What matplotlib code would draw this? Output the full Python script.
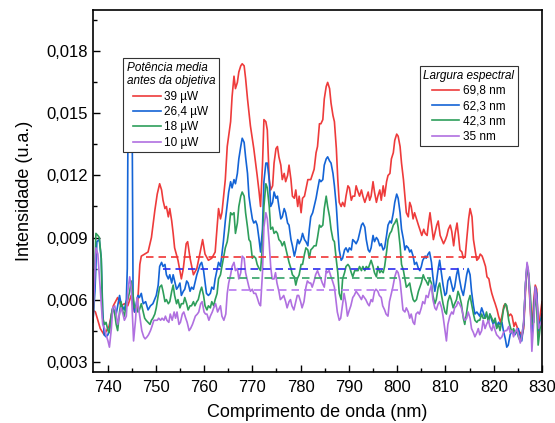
import matplotlib
matplotlib.use("Agg")
import matplotlib.pyplot as plt
from matplotlib.ticker import MultipleLocator, FuncFormatter
from matplotlib.lines import Line2D

plt.rcParams['font.family'] = ['Liberation Sans', 'DejaVu Sans']

# ---- spectra: wavelength (nm) and intensity (a.u.) ----
wl_39 = [737.0, 737.5, 738.5, 739.3, 740.3, 741.2, 742.1, 742.8, 743.5, 744.2, 744.9, 745.6, 746.2, 746.7, 747.0, 747.7, 748.4, 749.1, 749.8, 750.3,
         750.8, 751.2, 751.5, 751.9, 752.2, 752.6, 752.9, 753.3, 753.6, 753.9, 754.6, 755.3, 755.7, 756.3, 756.6, 757.1, 757.8, 758.5, 759.2, 759.7,
         760.2, 760.9, 761.6, 762.3, 762.7, 763.0, 763.4, 763.7, 764.4, 764.8, 765.5, 765.8, 766.2, 766.5, 766.9, 767.2, 767.6, 767.9, 768.3, 768.6,
         769.0, 769.6, 770.3, 771.0, 771.4, 771.7, 772.1, 772.4, 772.8, 773.1, 773.5, 773.8, 774.2, 774.5, 774.9, 775.2, 775.5, 775.9, 776.2, 776.6,
         776.9, 777.3, 777.6, 778.0, 778.3, 778.7, 779.0, 779.4, 779.7, 780.1, 780.4, 780.8, 781.5, 782.1, 782.8, 783.2, 783.5, 783.9, 784.2, 784.6,
         784.9, 785.3, 785.6, 786.0, 786.3, 786.7, 787.0, 787.4, 787.7, 788.0, 788.4, 788.7, 789.1, 789.4, 789.8, 790.1, 790.5, 790.8, 791.2, 791.5,
         791.9, 792.2, 792.6, 792.9, 793.3, 794.0, 794.3, 794.6, 795.0, 795.3, 795.7, 796.0, 796.4, 796.7, 797.1, 797.4, 797.8, 798.1, 798.5, 798.8,
         799.2, 799.5, 799.9, 800.2, 800.6, 800.9, 801.3, 801.6, 801.9, 802.3, 802.6, 802.9, 803.3, 803.6, 804.0, 804.4, 805.1, 805.5, 805.8, 806.2,
         806.5, 806.8, 807.5, 808.2, 808.5, 808.9, 809.6, 810.0, 810.3, 810.6, 811.0, 811.3, 811.7, 812.0, 812.4, 812.7, 813.0, 813.4, 813.7, 814.1,
         814.4, 814.8, 815.1, 815.5, 815.8, 816.2, 816.5, 816.9, 817.2, 817.6, 817.9, 818.3, 818.6, 819.0, 819.3, 819.6, 820.0, 820.3, 820.7, 821.0,
         821.4, 821.7, 822.1, 822.4, 822.8, 823.1, 823.5, 823.8, 824.2, 824.5, 825.1, 825.5, 825.8, 826.2, 826.6, 826.9, 827.2, 827.6, 827.9, 828.3,
         828.6, 828.9, 829.3, 829.6, 830.0]
int_39 = [0.0055, 0.0054, 0.0046, 0.0043, 0.0047, 0.0057, 0.0061, 0.0057, 0.0058, 0.0057, 0.0062, 0.0054, 0.0056, 0.0077, 0.0081, 0.0082, 0.0083, 0.0090, 0.0103, 0.0111,
          0.0116, 0.0113, 0.0108, 0.0104, 0.0105, 0.0100, 0.0104, 0.0098, 0.0092, 0.0085, 0.0079, 0.0070, 0.0075, 0.0087, 0.0088, 0.0080, 0.0072, 0.0075, 0.0083, 0.0089,
          0.0082, 0.0079, 0.0080, 0.0083, 0.0095, 0.0104, 0.0099, 0.0102, 0.0118, 0.0134, 0.0146, 0.0158, 0.0168, 0.0162, 0.0165, 0.0170, 0.0173, 0.0174, 0.0173, 0.0167,
          0.0157, 0.0144, 0.0133, 0.0120, 0.0112, 0.0105, 0.0125, 0.0147, 0.0146, 0.0142, 0.0118, 0.0113, 0.0115, 0.0126, 0.0133, 0.0134, 0.0129, 0.0125, 0.0118, 0.0121,
          0.0117, 0.0120, 0.0125, 0.0118, 0.0110, 0.0109, 0.0113, 0.0105, 0.0110, 0.0102, 0.0109, 0.0110, 0.0118, 0.0118, 0.0123, 0.0131, 0.0134, 0.0145, 0.0145, 0.0147,
          0.0157, 0.0163, 0.0165, 0.0162, 0.0155, 0.0149, 0.0146, 0.0133, 0.0118, 0.0107, 0.0105, 0.0107, 0.0105, 0.0110, 0.0115, 0.0114, 0.0108, 0.0110, 0.0110, 0.0115,
          0.0112, 0.0110, 0.0113, 0.0110, 0.0107, 0.0112, 0.0108, 0.0110, 0.0117, 0.0112, 0.0107, 0.0110, 0.0113, 0.0108, 0.0115, 0.0110, 0.0117, 0.0120, 0.0121, 0.0128,
          0.0131, 0.0137, 0.0140, 0.0139, 0.0134, 0.0126, 0.0118, 0.0110, 0.0102, 0.0100, 0.0107, 0.0105, 0.0099, 0.0102, 0.0099, 0.0096, 0.0091, 0.0094, 0.0092, 0.0091,
          0.0097, 0.0102, 0.0089, 0.0096, 0.0098, 0.0091, 0.0087, 0.0089, 0.0091, 0.0094, 0.0096, 0.0093, 0.0086, 0.0092, 0.0097, 0.0091, 0.0084, 0.0083, 0.0080, 0.0081,
          0.0089, 0.0099, 0.0104, 0.0100, 0.0089, 0.0083, 0.0079, 0.0080, 0.0082, 0.0081, 0.0079, 0.0076, 0.0071, 0.0070, 0.0066, 0.0063, 0.0060, 0.0058, 0.0055, 0.0052,
          0.0049, 0.0052, 0.0057, 0.0058, 0.0055, 0.0052, 0.0053, 0.0052, 0.0047, 0.0049, 0.0045, 0.0044, 0.0042, 0.0046, 0.0065, 0.0077, 0.0072, 0.0054, 0.0045, 0.0060,
          0.0067, 0.0065, 0.0043, 0.0052, 0.0059]

wl_26 = [737.0, 737.4, 737.8, 738.3, 738.7, 739.0, 739.3, 739.7, 740.1, 740.4, 741.1, 741.8, 742.5, 742.8, 743.5, 743.9, 744.1, 744.25, 744.7, 745.1,
         745.3, 745.6, 746.3, 746.6, 747.0, 747.4, 747.9, 748.4, 748.9, 749.4, 750.1, 750.5, 750.8, 751.2, 751.5, 751.9, 752.2, 752.6, 752.9, 753.3,
         753.6, 753.9, 754.3, 754.6, 755.0, 755.3, 755.7, 756.0, 756.4, 756.7, 757.1, 757.4, 757.8, 758.5, 759.2, 759.5, 759.9, 760.5, 760.9, 761.3,
         761.6, 762.0, 762.3, 763.0, 763.4, 763.7, 764.0, 764.4, 764.8, 765.1, 765.5, 765.8, 766.2, 766.5, 766.9, 767.2, 767.6, 767.9, 768.3, 768.6,
         769.0, 769.3, 769.6, 770.0, 770.3, 770.7, 771.0, 771.4, 771.7, 772.1, 772.4, 772.8, 773.1, 773.5, 773.8, 774.2, 774.5, 774.9, 775.2, 775.5,
         775.9, 776.2, 776.6, 776.9, 777.3, 777.6, 778.0, 778.3, 778.7, 779.0, 779.4, 779.7, 780.1, 780.4, 780.8, 781.1, 781.5, 781.8, 782.1, 782.5,
         782.8, 783.2, 783.5, 783.9, 784.2, 784.6, 784.9, 785.3, 785.6, 786.0, 786.3, 786.7, 787.0, 787.4, 787.7, 788.0, 788.4, 788.7, 789.1, 789.4,
         789.8, 790.1, 790.5, 790.8, 791.2, 791.5, 791.9, 792.2, 792.6, 792.9, 793.3, 793.6, 794.0, 794.3, 794.6, 795.0, 795.3, 795.7, 796.0, 796.4,
         796.7, 797.1, 797.4, 797.8, 798.1, 798.5, 798.8, 799.2, 799.5, 799.9, 800.2, 800.6, 800.9, 801.3, 801.6, 801.9, 802.3, 802.6, 802.9, 803.3,
         803.6, 804.0, 804.4, 804.7, 805.0, 805.3, 805.8, 806.0, 806.4, 806.7, 807.1, 807.4, 807.8, 808.1, 808.5, 808.8, 809.2, 809.5, 809.9, 810.2,
         810.5, 810.9, 811.2, 811.6, 811.9, 812.3, 812.6, 812.9, 813.3, 813.7, 814.0, 814.4, 814.7, 815.1, 815.4, 815.8, 816.1, 816.5, 816.8, 817.1,
         817.5, 817.8, 818.2, 818.5, 818.9, 819.2, 819.6, 819.9, 820.3, 820.6, 821.0, 821.3, 821.7, 822.0, 822.4, 822.7, 823.0, 823.4, 823.8, 824.1,
         824.4, 825.1, 825.4, 825.8, 826.2, 826.6, 826.9, 827.2, 827.6, 827.9, 828.3, 828.6, 828.9, 829.3, 829.6, 830.0]
int_26 = [0.0050, 0.0064, 0.0088, 0.0089, 0.0080, 0.0055, 0.0043, 0.0042, 0.0043, 0.0046, 0.0056, 0.0053, 0.0062, 0.0058, 0.0055, 0.0060, 0.0075, 0.0150, 0.0155, 0.0150,
          0.0060, 0.0054, 0.0062, 0.0061, 0.0063, 0.0058, 0.0059, 0.0055, 0.0057, 0.0058, 0.0062, 0.0067, 0.0076, 0.0078, 0.0076, 0.0077, 0.0072, 0.0070, 0.0072, 0.0068,
          0.0072, 0.0069, 0.0065, 0.0066, 0.0068, 0.0062, 0.0064, 0.0065, 0.0069, 0.0068, 0.0064, 0.0066, 0.0065, 0.0072, 0.0077, 0.0078, 0.0074, 0.0063, 0.0062, 0.0063,
          0.0066, 0.0065, 0.0070, 0.0078, 0.0076, 0.0082, 0.0088, 0.0098, 0.0106, 0.0112, 0.0117, 0.0114, 0.0118, 0.0116, 0.0121, 0.0128, 0.0134, 0.0138, 0.0136, 0.0129,
          0.0121, 0.0110, 0.0105, 0.0099, 0.0097, 0.0098, 0.0096, 0.0089, 0.0083, 0.0094, 0.0117, 0.0126, 0.0126, 0.0118, 0.0105, 0.0107, 0.0112, 0.0109, 0.0110, 0.0105,
          0.0099, 0.0100, 0.0104, 0.0102, 0.0097, 0.0096, 0.0089, 0.0086, 0.0081, 0.0084, 0.0089, 0.0087, 0.0089, 0.0092, 0.0089, 0.0088, 0.0086, 0.0094, 0.0100, 0.0102,
          0.0105, 0.0109, 0.0113, 0.0118, 0.0117, 0.0118, 0.0125, 0.0128, 0.0129, 0.0127, 0.0126, 0.0121, 0.0115, 0.0105, 0.0094, 0.0084, 0.0079, 0.0080, 0.0084, 0.0085,
          0.0083, 0.0085, 0.0084, 0.0089, 0.0088, 0.0087, 0.0089, 0.0092, 0.0096, 0.0097, 0.0095, 0.0089, 0.0084, 0.0083, 0.0085, 0.0091, 0.0088, 0.0090, 0.0089, 0.0086,
          0.0087, 0.0084, 0.0085, 0.0091, 0.0096, 0.0098, 0.0097, 0.0102, 0.0107, 0.0111, 0.0109, 0.0102, 0.0094, 0.0089, 0.0084, 0.0086, 0.0085, 0.0083, 0.0084, 0.0081,
          0.0077, 0.0078, 0.0075, 0.0074, 0.0076, 0.0079, 0.0081, 0.0080, 0.0082, 0.0083, 0.0078, 0.0071, 0.0064, 0.0068, 0.0075, 0.0079, 0.0072, 0.0067, 0.0062, 0.0063,
          0.0069, 0.0071, 0.0068, 0.0064, 0.0066, 0.0072, 0.0075, 0.0070, 0.0065, 0.0062, 0.0066, 0.0072, 0.0075, 0.0072, 0.0064, 0.0057, 0.0053, 0.0054, 0.0053, 0.0052,
          0.0056, 0.0054, 0.0051, 0.0053, 0.0050, 0.0053, 0.0050, 0.0048, 0.0050, 0.0047, 0.0049, 0.0048, 0.0049, 0.0045, 0.0041, 0.0037, 0.0038, 0.0043, 0.0045, 0.0044,
          0.0043, 0.0046, 0.0043, 0.0040, 0.0048, 0.0068, 0.0077, 0.0072, 0.0058, 0.0043, 0.0055, 0.0066, 0.0063, 0.0045, 0.0049, 0.0053]

wl_18 = [737.0, 737.3, 737.6, 738.0, 738.3, 738.7, 739.0, 739.4, 739.7, 740.1, 740.4, 740.8, 741.1, 741.5, 741.8, 742.1, 742.5, 742.8, 743.2, 743.5,
         743.9, 744.2, 744.6, 744.9, 745.3, 745.6, 745.9, 746.3, 746.6, 747.0, 747.4, 747.7, 748.0, 748.4, 748.8, 749.1, 749.4, 749.8, 750.1, 750.5,
         750.8, 751.2, 751.5, 751.9, 752.2, 752.6, 752.9, 753.3, 753.6, 753.9, 754.3, 754.6, 755.0, 755.3, 755.7, 756.0, 756.4, 756.7, 757.1, 757.4,
         757.8, 758.1, 758.5, 758.8, 759.2, 759.5, 759.9, 760.2, 760.6, 760.9, 761.3, 761.6, 762.0, 762.3, 762.7, 763.0, 763.4, 763.7, 764.1, 764.4,
         764.8, 765.1, 765.5, 765.8, 766.2, 766.5, 766.9, 767.2, 767.6, 767.9, 768.3, 768.6, 769.0, 769.3, 769.6, 770.0, 770.3, 770.7, 771.0, 771.4,
         771.7, 772.1, 772.4, 772.8, 773.1, 773.5, 773.8, 774.2, 774.5, 774.9, 775.2, 775.5, 775.9, 776.2, 776.6, 776.9, 777.3, 777.6, 778.0, 778.3,
         778.7, 779.0, 779.3, 779.7, 780.1, 780.4, 780.8, 781.1, 781.5, 781.8, 782.1, 782.5, 782.8, 783.2, 783.5, 783.9, 784.2, 784.6, 784.9, 785.3,
         785.6, 786.0, 786.3, 786.7, 787.0, 787.4, 787.7, 788.0, 788.4, 788.7, 789.1, 789.4, 789.8, 790.1, 790.5, 790.8, 791.2, 791.5, 791.9, 792.2,
         792.6, 792.9, 793.3, 793.6, 794.0, 794.3, 794.6, 795.0, 795.3, 795.7, 796.0, 796.4, 796.7, 797.1, 797.4, 797.8, 798.1, 798.5, 798.8, 799.2,
         799.5, 799.9, 800.2, 800.6, 800.9, 801.3, 801.6, 801.9, 802.3, 802.6, 802.9, 803.3, 803.6, 804.0, 804.4, 804.7, 805.0, 805.4, 805.7, 806.0,
         806.4, 806.7, 807.1, 807.4, 807.8, 808.1, 808.5, 808.8, 809.2, 809.5, 809.9, 810.2, 810.5, 810.9, 811.2, 811.6, 811.9, 812.3, 812.6, 812.9,
         813.3, 813.7, 814.0, 814.4, 814.7, 815.1, 815.4, 815.8, 816.1, 816.5, 816.8, 817.1, 817.5, 817.8, 818.2, 818.5, 818.9, 819.2, 819.6, 819.9,
         820.3, 820.6, 821.0, 821.3, 821.7, 822.0, 822.4, 822.7, 823.1, 823.4, 823.8, 824.1, 824.4, 824.8, 825.1, 825.5, 825.8, 826.2, 826.6, 826.9,
         827.2, 827.6, 827.9, 828.3, 828.6, 828.9, 829.2, 829.6, 830.0]
int_18 = [0.0049, 0.0070, 0.0092, 0.0091, 0.0090, 0.0080, 0.0051, 0.0048, 0.0049, 0.0045, 0.0044, 0.0053, 0.0056, 0.0053, 0.0048, 0.0045, 0.0054, 0.0059, 0.0054, 0.0052,
          0.0058, 0.0060, 0.0064, 0.0069, 0.0062, 0.0056, 0.0057, 0.0054, 0.0055, 0.0058, 0.0054, 0.0051, 0.0050, 0.0049, 0.0048, 0.0050, 0.0051, 0.0053, 0.0056, 0.0062,
          0.0066, 0.0067, 0.0064, 0.0059, 0.0060, 0.0058, 0.0059, 0.0064, 0.0067, 0.0062, 0.0058, 0.0060, 0.0056, 0.0058, 0.0058, 0.0061, 0.0058, 0.0055, 0.0057, 0.0057,
          0.0059, 0.0057, 0.0059, 0.0060, 0.0064, 0.0066, 0.0062, 0.0057, 0.0055, 0.0057, 0.0056, 0.0059, 0.0057, 0.0060, 0.0063, 0.0070, 0.0072, 0.0076, 0.0081, 0.0085,
          0.0088, 0.0093, 0.0102, 0.0101, 0.0102, 0.0092, 0.0097, 0.0105, 0.0110, 0.0112, 0.0110, 0.0102, 0.0095, 0.0089, 0.0088, 0.0080, 0.0081, 0.0080, 0.0077, 0.0075,
          0.0074, 0.0086, 0.0105, 0.0116, 0.0114, 0.0105, 0.0094, 0.0095, 0.0092, 0.0093, 0.0092, 0.0089, 0.0088, 0.0086, 0.0088, 0.0085, 0.0081, 0.0078, 0.0075, 0.0072,
          0.0071, 0.0067, 0.0070, 0.0072, 0.0077, 0.0077, 0.0082, 0.0085, 0.0084, 0.0080, 0.0084, 0.0085, 0.0086, 0.0086, 0.0090, 0.0096, 0.0095, 0.0096, 0.0104, 0.0110,
          0.0105, 0.0100, 0.0094, 0.0089, 0.0088, 0.0079, 0.0073, 0.0063, 0.0060, 0.0070, 0.0073, 0.0076, 0.0077, 0.0076, 0.0073, 0.0071, 0.0074, 0.0074, 0.0074, 0.0076,
          0.0074, 0.0076, 0.0074, 0.0076, 0.0075, 0.0077, 0.0079, 0.0076, 0.0073, 0.0071, 0.0076, 0.0073, 0.0074, 0.0073, 0.0076, 0.0083, 0.0089, 0.0092, 0.0093, 0.0096,
          0.0097, 0.0099, 0.0095, 0.0086, 0.0077, 0.0074, 0.0070, 0.0066, 0.0067, 0.0068, 0.0064, 0.0060, 0.0059, 0.0060, 0.0064, 0.0066, 0.0068, 0.0072, 0.0070, 0.0069,
          0.0067, 0.0070, 0.0068, 0.0062, 0.0058, 0.0060, 0.0066, 0.0068, 0.0062, 0.0058, 0.0054, 0.0053, 0.0059, 0.0062, 0.0060, 0.0056, 0.0058, 0.0060, 0.0064, 0.0062,
          0.0058, 0.0051, 0.0048, 0.0054, 0.0059, 0.0062, 0.0058, 0.0053, 0.0050, 0.0049, 0.0050, 0.0050, 0.0053, 0.0051, 0.0051, 0.0054, 0.0049, 0.0053, 0.0051, 0.0049,
          0.0051, 0.0046, 0.0048, 0.0045, 0.0050, 0.0055, 0.0058, 0.0057, 0.0050, 0.0047, 0.0044, 0.0046, 0.0044, 0.0045, 0.0042, 0.0040, 0.0042, 0.0049, 0.0068, 0.0075,
          0.0073, 0.0062, 0.0048, 0.0049, 0.0063, 0.0056, 0.0038, 0.0046, 0.0052]

wl_10 = [737.0, 737.3, 737.6, 738.0, 738.3, 738.7, 739.0, 739.4, 739.7, 740.1, 740.4, 740.8, 741.1, 741.5, 741.8, 742.1, 742.5, 742.8, 743.2, 743.5,
         743.9, 744.2, 744.6, 744.9, 745.2, 745.4, 745.8, 746.1, 746.5, 746.8, 747.1, 747.5, 747.8, 748.2, 748.5, 748.9, 749.2, 749.6, 749.9, 750.3,
         750.6, 751.0, 751.3, 751.7, 752.0, 752.3, 752.7, 753.0, 753.4, 753.8, 754.1, 754.4, 754.8, 755.1, 755.5, 755.8, 756.2, 756.5, 756.9, 757.2,
         757.6, 757.9, 758.2, 758.6, 758.9, 759.3, 759.6, 760.0, 760.3, 760.6, 761.0, 761.3, 761.7, 762.0, 762.4, 762.8, 763.0, 763.4, 763.7, 764.1,
         764.5, 764.8, 765.1, 765.5, 765.8, 766.2, 766.5, 766.9, 767.2, 767.6, 767.9, 768.3, 768.6, 769.0, 769.3, 769.6, 770.0, 770.3, 770.7, 771.0,
         771.4, 771.7, 772.1, 772.4, 772.8, 773.1, 773.5, 773.8, 774.1, 774.5, 774.8, 775.1, 775.5, 775.8, 776.2, 776.5, 776.9, 777.2, 777.6, 777.9,
         778.2, 778.6, 778.9, 779.3, 779.6, 780.0, 780.3, 780.7, 781.1, 781.4, 781.8, 782.1, 782.4, 782.8, 783.1, 783.5, 783.8, 784.2, 784.5, 784.9,
         785.3, 785.5, 785.9, 786.3, 786.6, 787.0, 787.3, 787.6, 788.0, 788.3, 788.7, 789.0, 789.4, 789.7, 790.1, 790.4, 790.8, 791.1, 791.5, 791.8,
         792.1, 792.6, 792.9, 793.2, 793.5, 793.9, 794.2, 794.6, 794.9, 795.3, 795.6, 796.0, 796.3, 796.7, 797.0, 797.4, 797.7, 798.1, 798.4, 798.8,
         799.1, 799.5, 799.9, 800.2, 800.6, 800.9, 801.2, 801.6, 801.9, 802.3, 802.6, 802.9, 803.3, 803.6, 803.9, 804.3, 804.6, 805.0, 805.3, 805.7,
         806.0, 806.4, 806.7, 807.1, 807.4, 807.8, 808.1, 808.5, 808.8, 809.2, 809.5, 809.9, 810.2, 810.5, 810.9, 811.3, 811.6, 811.9, 812.3, 812.6,
         812.9, 813.3, 813.7, 814.0, 814.4, 814.7, 815.1, 815.4, 815.8, 816.1, 816.5, 816.8, 817.1, 817.5, 817.8, 818.2, 818.5, 818.9, 819.2, 819.6,
         819.9, 820.3, 820.6, 821.0, 821.3, 821.7, 822.0, 822.4, 822.7, 823.1, 823.4, 823.8, 824.1, 824.4, 824.8, 825.1, 825.5, 825.8, 826.2, 826.6,
         826.9, 827.2, 827.6, 827.9, 828.3, 828.6, 828.9, 829.3, 829.6, 830.0]
int_10 = [0.0051, 0.0068, 0.0085, 0.0082, 0.0072, 0.0059, 0.0048, 0.0046, 0.0043, 0.0040, 0.0037, 0.0046, 0.0056, 0.0057, 0.0053, 0.0048, 0.0053, 0.0056, 0.0053, 0.0050,
          0.0052, 0.0064, 0.0071, 0.0066, 0.0050, 0.0040, 0.0050, 0.0061, 0.0055, 0.0050, 0.0045, 0.0042, 0.0041, 0.0042, 0.0043, 0.0045, 0.0047, 0.0050, 0.0050, 0.0050,
          0.0051, 0.0050, 0.0051, 0.0050, 0.0052, 0.0050, 0.0049, 0.0053, 0.0050, 0.0054, 0.0051, 0.0054, 0.0048, 0.0049, 0.0053, 0.0054, 0.0051, 0.0049, 0.0045, 0.0046,
          0.0048, 0.0050, 0.0052, 0.0053, 0.0054, 0.0058, 0.0059, 0.0054, 0.0053, 0.0053, 0.0050, 0.0052, 0.0054, 0.0056, 0.0058, 0.0054, 0.0055, 0.0057, 0.0052, 0.0050,
          0.0053, 0.0063, 0.0068, 0.0072, 0.0076, 0.0078, 0.0074, 0.0075, 0.0070, 0.0073, 0.0081, 0.0080, 0.0073, 0.0069, 0.0066, 0.0064, 0.0065, 0.0063, 0.0063, 0.0061,
          0.0058, 0.0057, 0.0073, 0.0095, 0.0102, 0.0099, 0.0087, 0.0076, 0.0070, 0.0070, 0.0073, 0.0068, 0.0064, 0.0060, 0.0061, 0.0062, 0.0059, 0.0056, 0.0059, 0.0060,
          0.0057, 0.0055, 0.0058, 0.0062, 0.0062, 0.0059, 0.0056, 0.0059, 0.0066, 0.0069, 0.0068, 0.0068, 0.0066, 0.0069, 0.0072, 0.0074, 0.0072, 0.0070, 0.0068, 0.0066,
          0.0074, 0.0073, 0.0074, 0.0071, 0.0069, 0.0066, 0.0060, 0.0054, 0.0050, 0.0051, 0.0058, 0.0063, 0.0058, 0.0052, 0.0055, 0.0057, 0.0061, 0.0062, 0.0064, 0.0063,
          0.0062, 0.0060, 0.0062, 0.0061, 0.0060, 0.0058, 0.0057, 0.0060, 0.0059, 0.0064, 0.0065, 0.0064, 0.0062, 0.0061, 0.0057, 0.0055, 0.0053, 0.0052, 0.0059, 0.0063,
          0.0066, 0.0071, 0.0074, 0.0073, 0.0069, 0.0062, 0.0055, 0.0054, 0.0056, 0.0054, 0.0051, 0.0053, 0.0049, 0.0048, 0.0053, 0.0054, 0.0053, 0.0056, 0.0059, 0.0058,
          0.0062, 0.0061, 0.0064, 0.0067, 0.0060, 0.0056, 0.0055, 0.0058, 0.0059, 0.0056, 0.0052, 0.0045, 0.0040, 0.0048, 0.0052, 0.0054, 0.0053, 0.0056, 0.0057, 0.0059,
          0.0058, 0.0056, 0.0052, 0.0050, 0.0051, 0.0054, 0.0051, 0.0046, 0.0044, 0.0042, 0.0044, 0.0046, 0.0043, 0.0045, 0.0050, 0.0046, 0.0048, 0.0050, 0.0047, 0.0045,
          0.0048, 0.0045, 0.0043, 0.0042, 0.0041, 0.0042, 0.0044, 0.0045, 0.0045, 0.0047, 0.0044, 0.0045, 0.0042, 0.0044, 0.0046, 0.0043, 0.0039, 0.0042, 0.0049, 0.0068,
          0.0078, 0.0074, 0.0055, 0.0035, 0.0050, 0.0066, 0.0060, 0.0046, 0.0048, 0.0050]

power_labels = ['39 \u00b5W', '26,4 \u00b5W', '18 \u00b5W', '10 \u00b5W']
width_labels = ['69,8 nm', '62,3 nm', '42,3 nm', '35 nm']

# half-maximum markers: level, start wavelength, spectral width
fwhm_level = [0.00805, 0.00749, 0.00705, 0.00648]
fwhm_start = [748.0, 751.5, 764.7, 765.1]
fwhm_width = [69.8, 62.3, 42.3, 35.0]

line_colors = ['#EE3B3B', '#1464D6', '#2E9E5B', '#B070E0']
dash_colors = ['#F03535', '#2B2BEE', '#33A266', '#B878F0']

fig = plt.figure(figsize=(5.55, 4.23), dpi=100)
ax = fig.add_axes([0.1676, 0.1206, 0.8090, 0.8558])

series = [(wl_39, int_39), (wl_26, int_26), (wl_18, int_18), (wl_10, int_10)]
for (x, y), c in zip(series, line_colors):
    ax.plot(x, y, color=c, lw=1.2)

for lvl, x0, w, c in zip(fwhm_level, fwhm_start, fwhm_width, dash_colors):
    ax.hlines(lvl, x0, x0 + w, colors=c, linestyles=(0, (4.5, 3)), lw=1.2)

ax.set_xlim(737, 830)
ax.set_ylim(0.0025, 0.0200)

ax.xaxis.set_major_locator(MultipleLocator(10))
ax.xaxis.set_minor_locator(MultipleLocator(5))
ax.yaxis.set_major_locator(MultipleLocator(0.003))
ax.yaxis.set_minor_locator(MultipleLocator(0.0015))
ax.yaxis.set_major_formatter(FuncFormatter(lambda v, p: f"{v:.3f}".replace('.', ',')))
ax.tick_params(axis='both', which='major', direction='in', length=5, width=1.0,
               labelsize=12, top=False, right=False)
ax.tick_params(axis='both', which='minor', direction='in', length=3, width=1.0,
               top=False, right=False)
ax.tick_params(axis='x', pad=6)
for s in ax.spines.values():
    s.set_linewidth(1.2)

ax.set_xlabel('Comprimento de onda (nm)', fontsize=13, labelpad=6)
ax.set_ylabel('Intensidade (u.a.)', fontsize=13, labelpad=10)

leg_kw = dict(fontsize=8.5, title_fontsize=8.5, frameon=True, fancybox=False,
              edgecolor='#333333', framealpha=1.0, handlelength=2.3,
              handletextpad=0.3, labelspacing=0.28, borderpad=0.3,
              borderaxespad=0.0)

h1 = [Line2D([], [], color=c, lw=1.2) for c in line_colors]
leg1 = ax.legend(h1, power_labels, title='Pot\u00eancia media\nantes da objetiva',
                 loc='upper left', bbox_to_anchor=(0.0668, 0.867), **leg_kw)
leg1.get_title().set_fontstyle('italic')
leg1.get_frame().set_linewidth(0.8)
ax.add_artist(leg1)

leg2 = ax.legend(h1, width_labels, title='Largura espectral',
                 loc='upper left', bbox_to_anchor=(0.728, 0.845), **leg_kw)
leg2.get_title().set_fontstyle('italic')
leg2.get_frame().set_linewidth(0.8)

fig.savefig('out.png', dpi=100)
